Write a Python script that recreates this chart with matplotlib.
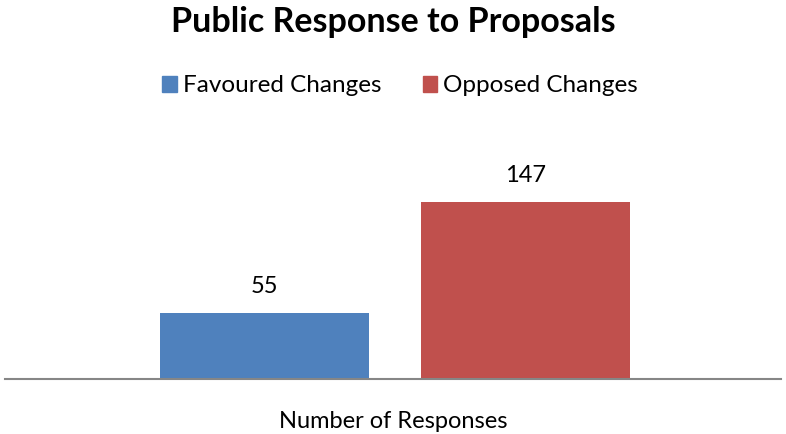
import numpy as np
import matplotlib
matplotlib.use("Agg")
import matplotlib.pyplot as plt
from matplotlib.patches import Patch

plt.rcParams['font.family'] = ['Lato', 'DejaVu Sans']

series = ["Favoured Changes", "Opposed Changes"]
values = [55, 147]
colors = ["#4F81BD", "#C0504D"]
category = "Number of Responses"

W, H = 786, 434
fig = plt.figure(figsize=(W / 100, H / 100), dpi=100)
ax = fig.add_axes([5 / W, 1 - 379 / H, 776 / W, (379 - 186) / H])

offsets = [-0.1655, 0.1705]
width = 0.27
for off, v, c in zip(offsets, values, colors):
    ax.bar(off, v, width=width, color=c, zorder=2)
    ax.text(off, v + 21.5, str(v), ha='center', va='center', fontsize=17)

ax.set_xlim(-0.5, 0.5)
ax.set_ylim(0, 160)
for s in ['top', 'right', 'left']:
    ax.spines[s].set_visible(False)
ax.spines['bottom'].set_color('#868686')
ax.spines['bottom'].set_linewidth(1.5)
ax.set_yticks([])
ax.set_xticks([])
fig.text(0.5, 1 - 421 / H, category, ha='center', va='center', fontsize=17)

fig.text(0.5, 1 - 22 / H, "Public Response to Proposals", ha='center', va='center',
         fontsize=24.5, fontweight='bold')

handles = [Patch(color=c) for c in colors]
fig.legend(handles, series, loc='center', bbox_to_anchor=(400 / W, 1 - 86 / H), ncol=2,
           frameon=False, fontsize=17.5, handlelength=0.6, handleheight=0.6,
           handletextpad=0.25, columnspacing=1.7)

fig.savefig("out.png", dpi=100)
